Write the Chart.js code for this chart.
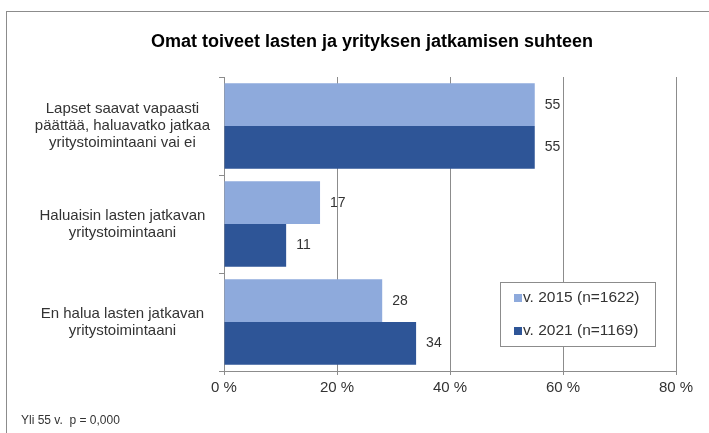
<!DOCTYPE html>
<html>
<head>
<meta charset="utf-8">
<script src="https://cdn.jsdelivr.net/npm/chart.js@4"></script>
<style>
  html, body { margin: 0; padding: 0; background: #fff; }
  #wrap { position: relative; width: 709px; height: 433px; }
</style>
</head>
<body>
<div id="wrap"><canvas id="graph" width="709" height="433"></canvas></div>
<script>
const titleText = "Omat toiveet lasten ja yrityksen jatkamisen suhteen";
const footnote = "Yli 55 v.  p = 0,000";
const categories = [
  ["Lapset saavat vapaasti", "päättää, haluavatko jatkaa", "yritystoimintaani vai ei"],
  ["Haluaisin lasten jatkavan", "yritystoimintaani"],
  ["En halua lasten jatkavan", "yritystoimintaani"]
];
const seriesNames = ["v. 2015 (n=1622)", "v. 2021 (n=1169)"];
const values2015 = [55, 17, 28];
const values2021 = [55, 11, 34];
const xTicks = [0, 20, 40, 60, 80];
const colors = ["#8eaadc", "#2e5597"];

const FONT = "'Liberation Sans', Arial, sans-serif";
const TXT = "#333333";
const LINE = "#8c8c8c";

// frame, title, footnote, legend box and value labels
const decorations = {
  id: "decorations",
  beforeDraw(chart) {
    const ctx = chart.ctx;
    ctx.save();
    ctx.strokeStyle = "#8c8c8c";
    ctx.lineWidth = 1;
    ctx.strokeRect(6.5, 11.5, 900, 900);
    ctx.restore();
  },
  afterDraw(chart) {
    const ctx = chart.ctx;
    ctx.save();
    ctx.fillStyle = "#000";
    ctx.font = "bold 18px " + FONT;
    ctx.textAlign = "center";
    ctx.textBaseline = "middle";
    ctx.fillText(titleText, 372, 42);

    ctx.fillStyle = TXT;
    ctx.font = "12px " + FONT;
    ctx.textAlign = "left";
    ctx.fillText(footnote, 21, 421);

    // legend inside plot
    const bx = 500, by = 282, bw = 155, bh = 64;
    ctx.fillStyle = "#fff";
    ctx.fillRect(bx, by, bw, bh);
    ctx.strokeStyle = LINE;
    ctx.strokeRect(bx + 0.5, by + 0.5, bw, bh);
    ctx.font = "15.5px " + FONT;
    chart.data.datasets.forEach((ds, i) => {
      const y = by + 16 + i * 33;
      ctx.fillStyle = ds.backgroundColor;
      ctx.fillRect(bx + 14, y - 4, 8, 8);
      ctx.fillStyle = TXT;
      ctx.fillText(ds.label, bx + 23, y);
    });
    ctx.restore();
  },
  afterDatasetsDraw(chart) {
    const ctx = chart.ctx;
    ctx.save();
    ctx.fillStyle = TXT;
    ctx.font = "14px " + FONT;
    ctx.textAlign = "left";
    ctx.textBaseline = "middle";
    chart.data.datasets.forEach((ds, i) => {
      chart.getDatasetMeta(i).data.forEach((bar, j) => {
        ctx.fillText(String(ds.data[j]), bar.x + 10, bar.y);
      });
    });
    ctx.restore();
  }
};

new Chart(document.getElementById("graph"), {
  type: "bar",
  data: {
    labels: categories,
    datasets: [
      { label: seriesNames[0], data: values2015, backgroundColor: colors[0] },
      { label: seriesNames[1], data: values2021, backgroundColor: colors[1] }
    ]
  },
  options: {
    indexAxis: "y",
    responsive: false,
    animation: false,
    devicePixelRatio: 1,
    layout: { padding: { top: 77, right: 33, bottom: 0, left: 0 } },
    datasets: { bar: { categoryPercentage: 0.87, barPercentage: 1.0 } },
    plugins: { legend: { display: false }, title: { display: false }, tooltip: { enabled: false } },
    scales: {
      x: {
        min: 0, max: 80,
        afterBuildTicks(scale) { scale.ticks = xTicks.map(v => ({ value: v })); },
        ticks: { callback: v => v + " %", color: TXT, font: { family: FONT, size: 15 }, padding: 4, maxRotation: 0 },
        grid: { color: LINE, tickLength: 4, drawTicks: true },
        border: { color: LINE },
        afterFit(scale) { scale.height = 62; }
      },
      y: {
        ticks: { color: TXT, font: { family: FONT, size: 15, lineHeight: 1.13 }, crossAlign: "center", padding: 9 },
        grid: { drawOnChartArea: false, color: LINE, tickLength: 5, offset: true },
        border: { color: LINE },
        afterFit(scale) { scale.width = 224; }
      }
    }
  },
  plugins: [decorations]
});
</script>
</body>
</html>
